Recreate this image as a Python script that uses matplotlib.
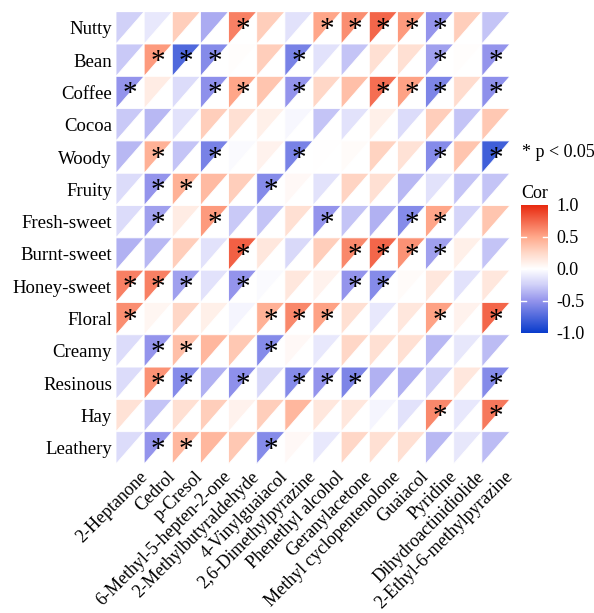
import numpy as np
import matplotlib
matplotlib.use('Agg')
import matplotlib.pyplot as plt
from matplotlib.collections import PolyCollection
from matplotlib.colors import LinearSegmentedColormap, Normalize
from matplotlib.cm import ScalarMappable

plt.rcParams['font.family'] = ['Liberation Serif', 'DejaVu Serif']
plt.rcParams['axes.unicode_minus'] = False

# flavour attributes (rows) and volatile compounds (columns)
attributes = ['Nutty', 'Bean', 'Coffee', 'Cocoa', 'Woody', 'Fruity', 'Fresh-sweet',
              'Burnt-sweet', 'Honey-sweet', 'Floral', 'Creamy', 'Resinous', 'Hay', 'Leathery']
compounds = ['2-Heptanone', 'Cedrol', 'p-Cresol', '6-Methyl-5-hepten-2-one',
             '2-Methylbutyraldehyde', '4-Vinylguaiacol', '2,6-Dimethylpyrazine',
             'Phenethyl alcohol', 'Geranylacetone', 'Methyl cyclopentenolone',
             'Guaiacol', 'Pyridine', 'Dihydroactinidiolide', '2-Ethyl-6-methylpyrazine']

# correlation values, one list per attribute
cor_values = [
    [-0.25, -0.12, 0.30, -0.40, 0.65, 0.30, -0.15, 0.50, 0.60, 0.75, 0.55, -0.50, 0.30, -0.30],
    [-0.28, 0.55, -0.75, -0.55, 0.01, 0.30, -0.60, -0.15, -0.30, 0.20, 0.20, -0.45, 0.01, -0.50],
    [-0.50, 0.12, -0.18, -0.52, 0.50, 0.35, -0.50, 0.25, 0.38, 0.72, 0.52, -0.58, 0.22, -0.52],
    [-0.28, -0.35, -0.15, 0.30, 0.20, 0.10, -0.04, -0.30, -0.15, 0.10, -0.18, 0.30, -0.30, 0.33],
    [-0.35, 0.45, -0.30, -0.60, -0.03, 0.08, -0.60, 0.00, 0.03, 0.28, 0.18, -0.55, 0.35, -0.80],
    [-0.18, -0.50, 0.45, 0.40, 0.30, -0.55, 0.04, -0.15, 0.27, 0.20, -0.35, -0.15, -0.30, -0.30],
    [-0.18, -0.45, 0.12, 0.55, -0.28, -0.30, 0.20, -0.50, -0.30, -0.38, -0.55, 0.50, -0.22, 0.35],
    [-0.38, -0.35, 0.30, -0.15, 0.78, 0.15, -0.20, 0.30, 0.62, 0.75, 0.58, -0.45, 0.10, -0.30],
    [0.65, 0.65, -0.45, -0.15, -0.50, -0.03, 0.15, 0.08, -0.50, -0.55, 0.03, 0.15, -0.15, 0.15],
    [0.60, 0.06, 0.25, 0.10, -0.05, 0.45, 0.62, 0.52, 0.20, -0.12, 0.15, 0.52, 0.08, 0.75],
    [-0.18, -0.50, 0.38, 0.42, 0.33, -0.55, 0.04, -0.12, 0.25, 0.20, 0.20, -0.35, -0.13, -0.33],
    [-0.18, 0.58, -0.55, -0.38, -0.52, -0.20, -0.55, -0.50, -0.58, -0.38, -0.38, -0.25, 0.15, -0.55],
    [0.18, -0.30, 0.20, 0.30, 0.08, 0.30, 0.42, 0.15, 0.15, -0.05, -0.15, 0.62, -0.12, 0.68],
    [-0.18, -0.50, 0.42, 0.42, 0.33, -0.55, 0.04, -0.12, 0.25, 0.20, 0.20, -0.35, -0.13, -0.33],
]

# 1 = p < 0.05
significant = [
    [0, 0, 0, 0, 1, 0, 0, 1, 1, 1, 1, 1, 0, 0],
    [0, 1, 1, 1, 0, 0, 1, 0, 0, 0, 0, 1, 0, 1],
    [1, 0, 0, 1, 1, 0, 1, 0, 0, 1, 1, 1, 0, 1],
    [0, 0, 0, 0, 0, 0, 0, 0, 0, 0, 0, 0, 0, 0],
    [0, 1, 0, 1, 0, 0, 1, 0, 0, 0, 0, 1, 0, 1],
    [0, 1, 1, 0, 0, 1, 0, 0, 0, 0, 0, 0, 0, 0],
    [0, 1, 0, 1, 0, 0, 0, 1, 0, 0, 1, 1, 0, 0],
    [0, 0, 0, 0, 1, 0, 0, 0, 1, 1, 1, 1, 0, 0],
    [1, 1, 1, 0, 1, 0, 0, 0, 1, 1, 0, 0, 0, 0],
    [1, 0, 0, 0, 0, 1, 1, 1, 0, 0, 0, 1, 0, 1],
    [0, 1, 1, 0, 0, 1, 0, 0, 0, 0, 0, 0, 0, 0],
    [0, 1, 1, 0, 1, 0, 1, 1, 1, 0, 0, 0, 0, 1],
    [0, 0, 0, 0, 0, 0, 0, 0, 0, 0, 0, 1, 0, 1],
    [0, 1, 1, 0, 0, 1, 0, 0, 0, 0, 0, 0, 0, 0],
]

cmap = LinearSegmentedColormap.from_list('cor', [
    (0.0, '#0a3ccc'), (0.25, '#9494ec'), (0.375, '#d0d0f8'), (0.5, '#ffffff'),
    (0.625, '#ffd8c8'), (0.75, '#ffa88a'), (1.0, '#e8280e')])
norm = Normalize(-1, 1)

fig = plt.figure(figsize=(5.94, 6.13), dpi=100)
ax = fig.add_axes([0.1953, 0.2431, 0.6633, 0.7378])

verts = []
vals = []
for i in range(len(attributes)):
    for j in range(len(compounds)):
        verts.append([(j, i), (j + 1, i), (j, i + 1)])
        vals.append(cor_values[i][j])
pc = PolyCollection(verts, array=np.array(vals), cmap=cmap, norm=norm,
                    edgecolors='white', linewidths=0.6)
ax.add_collection(pc)

for i in range(len(attributes)):
    for j in range(len(compounds)):
        if significant[i][j]:
            ax.text(j + 0.5, i + 0.56, '*', ha='center', va='center', fontsize=21, color='black')

ax.set_xlim(0, len(compounds))
ax.set_ylim(len(attributes), 0)
ax.set_yticks(np.arange(len(attributes)) + 0.5)
ax.set_yticklabels(attributes, fontsize=13.5)
ax.set_xticks(np.arange(len(compounds)) + 0.8)
ax.set_xticklabels(compounds, fontsize=13, rotation=45, ha='right', va='top',
                   rotation_mode='anchor')
ax.tick_params(length=0, pad=3)
for s in ax.spines.values():
    s.set_visible(False)

fig.text(0.879, 0.752, '* p < 0.05', fontsize=13, ha='left', va='center')

cax = fig.add_axes([0.877, 0.4568, 0.0455, 0.2088])
cb = fig.colorbar(ScalarMappable(norm=norm, cmap=cmap), cax=cax)
cb.outline.set_visible(False)
cb.set_ticks([-1, -0.5, 0, 0.5, 1])
cb.set_ticklabels(['-1.0', '-0.5', '0.0', '0.5', '1.0'])
cax.tick_params(length=0, labelsize=13, pad=6)
for v in [-0.5, 0, 0.5]:
    cax.plot([0, 0.18], [v, v], color='white', lw=1, transform=cax.get_yaxis_transform())
    cax.plot([0.82, 1], [v, v], color='white', lw=1, transform=cax.get_yaxis_transform())
cax.set_title('Cor', fontsize=13, loc='left', pad=5)

fig.savefig('out.png', dpi=100)
